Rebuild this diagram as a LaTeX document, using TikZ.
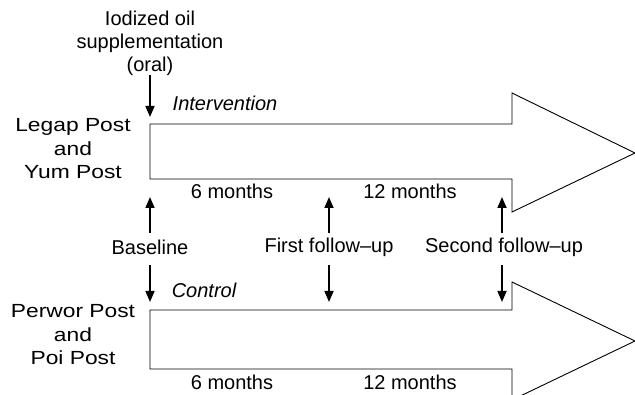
\documentclass[tikz,border=0pt]{standalone}
\usepackage{fontspec}
\setmainfont{Liberation Sans}
\newfontfamily\widefont{Liberation Sans}[FakeStretch=1.2]
\usetikzlibrary{arrows.meta}

\tikzset{
  lbl/.style={inner sep=0pt,align=center,font=\fontsize{20}{23}\selectfont},
  grp/.style={inner sep=0pt,align=center,font=\widefont\fontsize{19}{23.5}\selectfont},
  arm/.style={inner sep=0pt,font=\itshape\fontsize{20}{23}\selectfont},
  ptr/.style={line width=1.7pt,-{Triangle[length=11pt,width=9pt]}},
  band/.style={line width=0.9pt,fill=white}
}

\begin{document}
\begin{tikzpicture}[x=1pt,y=-1pt]

\useasboundingbox (0,0) rectangle (635,395);
\clip (0,0) rectangle (635,395);

% the two big arrows
\draw[band] (150,124) -- (512,124) -- (512,93) -- (635,153)
  -- (512,212) -- (512,179) -- (150,179) -- cycle;
\draw[band] (150,310) -- (512,310) -- (512,282) -- (635,341)
  -- (512,400) -- (512,369) -- (150,369) -- cycle;

% texts
\node[lbl] (oil) at (150,43) {Iodized oil\\supplementation\\(oral)};
\node[grp] (grpA) at (73,149) {Legap Post\\and\\Yum Post};
\node[grp] (grpB) at (73,335) {Perwor Post\\and\\Poi Post};
\node[arm] (int) at (225,103) {Intervention};
\node[arm] (ctl) at (204,290) {Control};

\node[lbl] (sixA) at (232,191) {6 months};
\node[lbl] (twlA) at (410,191) {12 months};
\node[lbl] (sixB) at (232,382) {6 months};
\node[lbl] (twlB) at (410,382) {12 months};

\node[lbl] (t0) at (150,247) {Baseline};
\node[lbl] (t1) at (329,247) {First follow--up};
\node[lbl] (t2) at (504,247) {Second follow--up};

% arrow ends
\coordinate (O1) at (150,75);
\coordinate (O2) at (150,117);

\coordinate (UT0) at (150,233);
\coordinate (UT1) at (329,233);
\coordinate (UT2) at (502,233);
\coordinate (U0) at (150,197);
\coordinate (U1) at (329,197);
\coordinate (U2) at (502,197);

\coordinate (DT0) at (150,265);
\coordinate (DT1) at (329,265);
\coordinate (DT2) at (502,265);
\coordinate (D0) at (150,302);
\coordinate (D1) at (329,302);
\coordinate (D2) at (502,302);

\draw[ptr] (O1) -- (O2);

\foreach \i in {0,1,2}
{
  \draw[ptr] (UT\i) -- (U\i);
  \draw[ptr] (DT\i) -- (D\i);
}

\end{tikzpicture}
\end{document}
